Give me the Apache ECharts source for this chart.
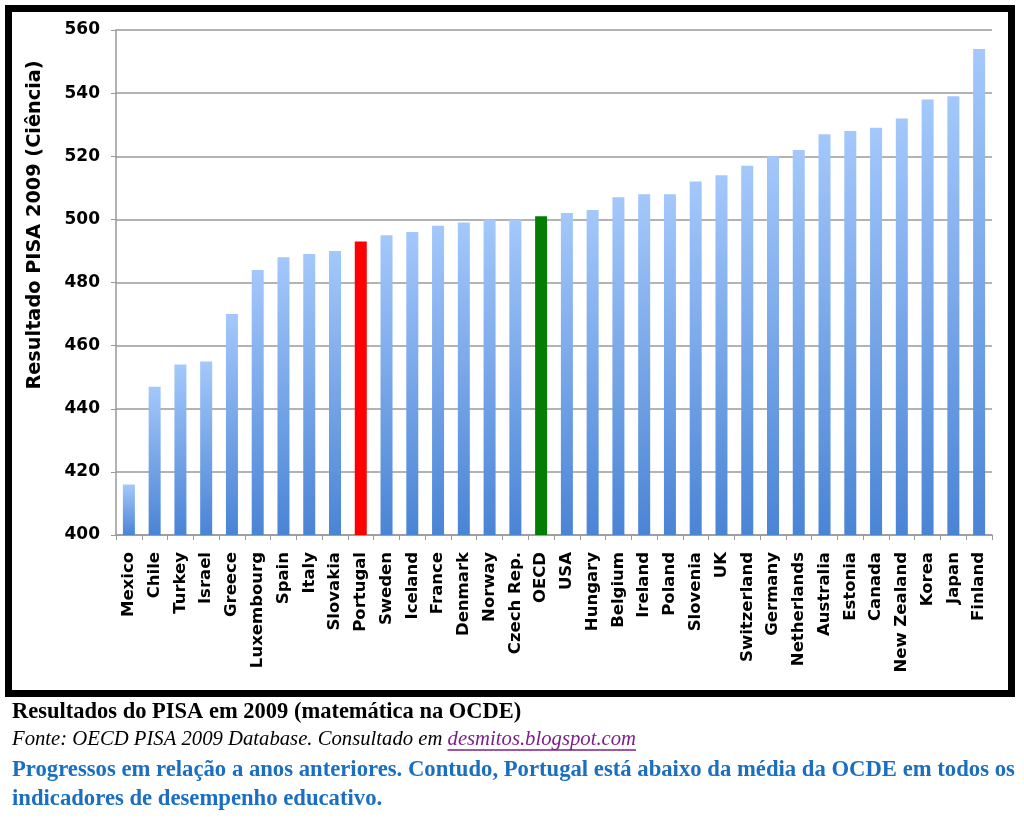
<!DOCTYPE html>
<html>
<head>
<meta charset="utf-8">
<script src="https://cdn.jsdelivr.net/npm/echarts@6/dist/echarts.min.js"></script>
<style>
html,body{margin:0;padding:0;background:#fff;}
#chart{width:1024px;height:819px;}
</style>
</head>
<body>
<div id="chart"></div>
<script>
const countries = ["Mexico","Chile","Turkey","Israel","Greece","Luxembourg","Spain","Italy","Slovakia","Portugal","Sweden","Iceland","France","Denmark","Norway","Czech Rep.","OECD","USA","Hungary","Belgium","Ireland","Poland","Slovenia","UK","Switzerland","Germany","Netherlands","Australia","Estonia","Canada","New Zealand","Korea","Japan","Finland"];
const scores = [416,447,454,455,470,484,488,489,490,493,495,496,498,499,500,500,501,502,503,507,508,508,512,514,517,520,522,527,528,529,532,538,539,554];
const yTicks = [400,420,440,460,480,500,520,540,560];
const highlight = {"Portugal":"#ff0000","OECD":"#037d03"};

const chart = echarts.init(document.getElementById('chart'), null, {renderer:'canvas'});
const blueGrad = new echarts.graphic.LinearGradient(0,0,0,1,[
  {offset:0,color:'#a4c8fb'},{offset:1,color:'#4a84d5'}]);

const data = scores.map((v,i)=>({
  value:v,
  itemStyle:{color: highlight[countries[i]] || blueGrad}
}));

const sansB = '"DejaVu Sans", Verdana, sans-serif';
const fonteFont = 'italic 20.7px "Liberation Serif", "Times New Roman"';
const fontePre = 'Fonte: OECD PISA 2009 Database. Consultado em ';
const fonteLink = 'desmitos.blogspot.com';
const mctx = document.createElement('canvas').getContext('2d');
mctx.font = fonteFont;
const preW = mctx.measureText(fontePre).width;
const linkW = mctx.measureText(fonteLink).width;
const linkX = 12 + preW;

chart.setOption({
  animation:false,
  grid:{left:116,right:32,top:30,bottom:284,containLabel:false},
  xAxis:{
    type:'category',
    data:countries,
    boundaryGap:true,
    axisLine:{lineStyle:{color:'#999',width:1.5}},
    axisTick:{show:true,length:5,lineStyle:{color:'#999'}},
    axisLabel:{rotate:90,interval:0,margin:17,color:'#000',fontFamily:sansB,fontWeight:'bold',fontSize:16.5}
  },
  yAxis:{
    type:'value',
    min:yTicks[0],max:yTicks[yTicks.length-1],interval:20,
    axisLine:{show:true,lineStyle:{color:'#999',width:1.5}},
    axisTick:{show:true,length:5,lineStyle:{color:'#999'}},
    splitLine:{lineStyle:{color:'#9a9a9a',width:1.5}},
    axisLabel:{margin:16,color:'#000',fontFamily:sansB,fontWeight:'bold',fontSize:17}
  },
  series:[{
    type:'bar',
    data:data,
    barWidth:12
  }],
  graphic:[
    {type:'rect',shape:{x:8.5,y:8.5,width:1003,height:685},style:{fill:'none',stroke:'#000',lineWidth:7},z:-1},
    {type:'text',x:35,y:225,rotation:Math.PI/2,style:{text:'Resultado PISA 2009 (Ciência)',fill:'#000',font:'bold 19.3px '+sansB,textAlign:'center',textVerticalAlign:'middle'}},
    {type:'text',x:12,y:712,style:{text:'Resultados do PISA em 2009 (matemática na OCDE)',fill:'#000',font:'bold 22.5px "Liberation Serif", "Times New Roman"',textVerticalAlign:'middle'}},
    {type:'text',x:12,y:740,style:{text:fontePre,fill:'#000',font:fonteFont,textVerticalAlign:'middle'}},
    {type:'text',x:linkX,y:740,style:{text:fonteLink,fill:'#7b1f8a',font:fonteFont,textVerticalAlign:'middle'}},
    {type:'line',shape:{x1:linkX,y1:750,x2:linkX+linkW,y2:750},style:{stroke:'#7b1f8a',lineWidth:1.3}},
    {type:'text',x:12,y:770,style:{text:'Progressos em relação a anos anteriores. Contudo, Portugal está abaixo da média da OCDE em todos os',fill:'#1b6fc2',font:'bold 22.7px "Liberation Serif", "Times New Roman"',textVerticalAlign:'middle'}},
    {type:'text',x:12,y:799,style:{text:'indicadores de desempenho educativo.',fill:'#1b6fc2',font:'bold 22.7px "Liberation Serif", "Times New Roman"',textVerticalAlign:'middle'}}
  ]
});
</script>
</body>
</html>
